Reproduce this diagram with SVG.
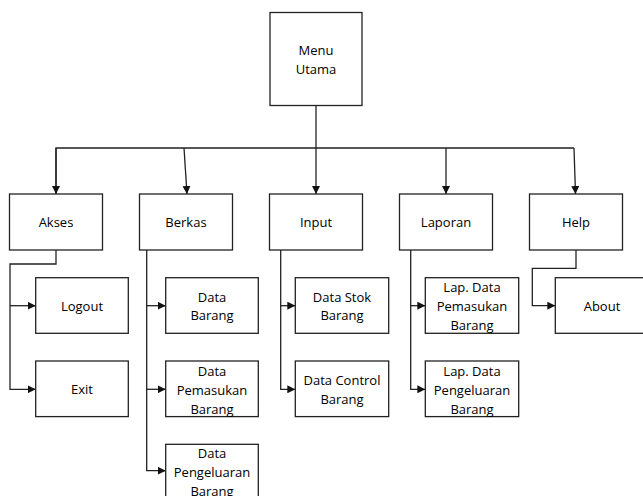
<svg xmlns="http://www.w3.org/2000/svg" width="643" height="496" viewBox="0 0 643 496">
<style>
.box{fill:#fff;stroke:#222;stroke-width:1.3}
.t{font-family:"Open Sans","Liberation Sans",sans-serif;font-size:13px;fill:#000;text-anchor:middle;dominant-baseline:central}
.c{fill:none;stroke:#222;stroke-width:1.3}
</style>
<defs>
<marker id="ah" viewBox="0 0 10 10" refX="10" refY="5" markerWidth="8" markerHeight="8" markerUnits="userSpaceOnUse" orient="auto">
<path d="M0,0 L10,5 L0,10 Z" fill="#111"/>
</marker>
</defs>
<rect width="643" height="496" fill="#fff"/>
<g id="connectors">
<path class="c" d="M316,105.5 V194" marker-end="url(#ah)"/>
<path class="c" d="M56,194 V148 H574"/>
<path class="c" d="M184,148 L187,194" marker-end="url(#ah)"/>
<path class="c" d="M56,148 V194" marker-end="url(#ah)"/>
<path class="c" d="M446,148 V194" marker-end="url(#ah)"/>
<path class="c" d="M574,148 L575.5,194" marker-end="url(#ah)"/>
<path class="c" d="M56,250 V264 H10 V389.3 H35.7" marker-end="url(#ah)"/>
<path class="c" d="M10,305.7 H35.7" marker-end="url(#ah)"/>
<path class="c" d="M146.7,250 V470.7 H165.7" marker-end="url(#ah)"/>
<path class="c" d="M146.7,305.7 H165.7" marker-end="url(#ah)"/>
<path class="c" d="M146.7,389.3 H165.7" marker-end="url(#ah)"/>
<path class="c" d="M280.7,250 V389.3 H295.3" marker-end="url(#ah)"/>
<path class="c" d="M280.7,305.7 H295.3" marker-end="url(#ah)"/>
<path class="c" d="M410.7,250 V389.3 H425.3" marker-end="url(#ah)"/>
<path class="c" d="M410.7,305.7 H425.3" marker-end="url(#ah)"/>
<path class="c" d="M576,250 V268.3 H532.3 V305.7 H555.3" marker-end="url(#ah)"/>
</g>
<g id="menu-utama"><rect class="box" x="270" y="12.5" width="92" height="93"/><text class="t" x="316" y="50">Menu</text><text class="t" x="316" y="69">Utama</text></g>
<g id="akses"><rect class="box" x="9.5" y="194" width="93" height="56"/><text class="t" x="56" y="222">Akses</text></g>
<g id="berkas"><rect class="box" x="139.5" y="194" width="93" height="56"/><text class="t" x="186" y="222">Berkas</text></g>
<g id="input"><rect class="box" x="269.5" y="194" width="93" height="56"/><text class="t" x="316" y="222">Input</text></g>
<g id="laporan"><rect class="box" x="399.5" y="194" width="93" height="56"/><text class="t" x="446" y="222">Laporan</text></g>
<g id="help"><rect class="box" x="529.5" y="194" width="93" height="56"/><text class="t" x="576" y="222">Help</text></g>
<g id="logout"><rect class="box" x="35.7" y="277.7" width="92.6" height="55.6"/><text class="t" x="82" y="305.7">Logout</text></g>
<g id="exit"><rect class="box" x="35.7" y="361" width="92.6" height="55.6"/><text class="t" x="82" y="389">Exit</text></g>
<g id="data-barang"><rect class="box" x="165.7" y="277.7" width="92.6" height="55.6"/><text class="t" x="212" y="297.3">Data</text><text class="t" x="212" y="315.3">Barang</text></g>
<g id="data-pemasukan"><rect class="box" x="165.7" y="361" width="92.6" height="55.6"/><text class="t" x="212" y="371">Data</text><text class="t" x="212" y="390">Pemasukan</text><text class="t" x="212" y="409">Barang</text></g>
<g id="data-pengeluaran"><rect class="box" x="165.7" y="444.3" width="92.6" height="55.6"/><text class="t" x="212" y="452.5">Data</text><text class="t" x="212" y="472">Pengeluaran</text><text class="t" x="212" y="490.7">Barang</text></g>
<g id="data-stok"><rect class="box" x="295.3" y="277.7" width="93.4" height="55.6"/><text class="t" x="342" y="297.3">Data Stok</text><text class="t" x="342" y="315.3">Barang</text></g>
<g id="data-control"><rect class="box" x="295.3" y="361" width="93.4" height="55.6"/><text class="t" x="342" y="380">Data Control</text><text class="t" x="342" y="398.5">Barang</text></g>
<g id="lap-pemasukan"><rect class="box" x="425.3" y="277.7" width="93.4" height="55.6"/><text class="t" x="472" y="287">Lap. Data</text><text class="t" x="472" y="305.7">Pemasukan</text><text class="t" x="472" y="324.5">Barang</text></g>
<g id="lap-pengeluaran"><rect class="box" x="425.3" y="361" width="93.4" height="55.6"/><text class="t" x="472" y="371">Lap. Data</text><text class="t" x="472" y="390">Pengeluaran</text><text class="t" x="472" y="409">Barang</text></g>
<g id="about"><rect class="box" x="555.3" y="277.7" width="93" height="55.6"/><text class="t" x="602" y="305.7">About</text></g>
</svg>
